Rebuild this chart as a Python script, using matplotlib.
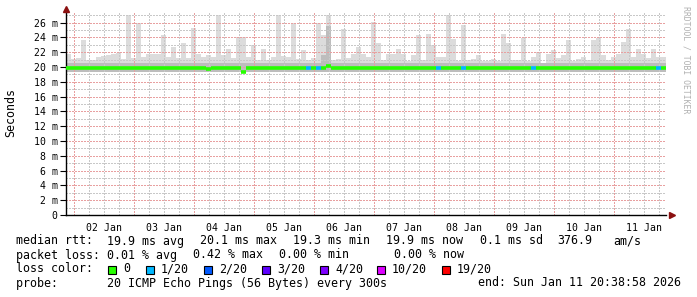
import numpy as np
import matplotlib
matplotlib.use('Agg')
import matplotlib.pyplot as plt
from matplotlib.patches import Rectangle

# smokeping style latency graph, 10 days, values in ms
W, H = 697, 297
START = 1 + (20 + 39 / 60) / 24   # Jan 1 20:39, x axis in "day of January"
DAYS = 10
NBINS = 120

# upper edge of the smoke (max of 20 pings) per 2 h bin
smoke_max = [
  21.8, 21.1, 21.2, 23.6, 21.0, 21.0, 21.3, 21.5, 21.6, 21.7,
  21.9, 21.1, 27.0, 21.2, 26.0, 21.4, 21.8, 21.8, 21.7, 24.3,
  21.4, 22.7, 21.2, 23.3, 21.2, 25.3, 21.8, 21.4, 21.6, 21.3,
  27.0, 21.6, 22.5, 21.2, 24.1, 24.1, 21.3, 23.0, 20.9, 22.5,
  20.9, 21.4, 27.0, 21.5, 21.4, 25.9, 21.1, 22.3, 20.9, 21.2,
  26.0, 24.3, 27.0, 21.0, 21.1, 25.2, 21.2, 21.8, 22.7, 21.8,
  21.4, 26.1, 23.2, 20.9, 21.8, 21.8, 22.5, 21.8, 20.8, 21.6,
  24.3, 20.9, 24.5, 23.0, 21.3, 21.4, 27.0, 23.8, 20.8, 25.7,
  20.9, 21.1, 21.6, 20.8, 20.8, 21.1, 20.8, 24.5, 23.2, 20.9,
  20.9, 23.9, 20.8, 21.4, 22.0, 20.6, 21.8, 22.3, 21.2, 21.6,
  23.6, 20.8, 21.1, 21.4, 20.9, 23.6, 23.9, 21.6, 20.9, 21.4,
  21.8, 23.4, 25.2, 21.4, 22.5, 21.8, 21.2, 22.5, 21.4, 21.4,
]
smoke_min = 19.3
# darker band close to the median, taller where many pings were slow
smoke_mid = [20.5] * NBINS
smoke_mid[51] = 21.6
smoke_mid[52] = 25.5

median_ms = [19.9] * NBINS
median_ms[28] = 19.7
median_ms[35] = 19.3
median_ms[52] = 20.1

lost_pings = [0] * NBINS
for b in (48, 50, 74, 79, 93, 118):
  lost_pings[b] = 1

loss_levels = ['0', '1/20', '2/20', '3/20', '4/20', '10/20', '19/20']
loss_colors = ['#26ff00', '#00b8ff', '#0059ff', '#5e00ff', '#7e00ff', '#dd00ff', '#ff0000']

# legend pieces with their pixel x position
rtt_items = [('median rtt:', 16), ('19.9 ms avg', 107), ('20.1 ms max', 200),
             ('19.3 ms min', 293), ('19.9 ms now', 386), ('0.1 ms sd', 480),
             ('376.9', 557), ('am/s', 613)]
loss_items = [('packet loss:', 16), ('0.01 % avg', 107), ('0.42 % max', 193),
              ('0.00 % min', 279), ('0.00 % now', 394)]
probe_text = 'probe:       20 ICMP Echo Pings (56 Bytes) every 300s'
end_text = 'end: Sun Jan 11 20:38:58 2026'

MONO = 'DejaVu Sans Mono'
plt.rcParams['font.family'] = MONO

fig = plt.figure(figsize=(W / 100, H / 100), dpi=100, facecolor='white')
L, R, T, B = 66, 666, 12, 215
ax = fig.add_axes([L / W, 1 - B / H, (R - L) / W, (B - T) / H])
ytop = (B - T) / 7.4
ax.set_xlim(START, START + DAYS)
ax.set_ylim(0, ytop)

step = DAYS / NBINS
left_edges = START + np.arange(NBINS) * step
centers = left_edges + step / 2
hi = np.array(smoke_max)
mid = np.array(smoke_mid)
ax.bar(centers, hi - smoke_min, bottom=smoke_min, width=step, color='#dcdcdc', linewidth=0, zorder=1)
ax.bar(centers, mid - smoke_min, bottom=smoke_min, width=step, color='#bdbdbd', linewidth=0, zorder=1.1)

# grid drawn over the smoke like rrdtool does
dots = (0, (1.4, 1.4))
red, grey = '#e8a0a0', '#c8c8c8'
for h6 in np.arange(np.ceil(START * 4), (START + DAYS) * 4):
  d = h6 / 4
  ax.axvline(d, color=red if h6 % 4 == 0 else grey, lw=0.72, ls=dots,
             antialiased=False, zorder=2)
for v in range(1, int(ytop) + 1):
  ax.axhline(v, color=red if v % 2 == 0 else grey, lw=0.72, ls=dots,
             antialiased=False, zorder=2)

seg_colors = [loss_colors[n] for n in lost_pings]
ax.hlines(median_ms, left_edges, left_edges + step, colors=seg_colors, lw=2.6, zorder=3)

for s in ['top', 'right']:
  ax.spines[s].set_visible(False)
ax.spines['left'].set_linewidth(1.0)
ax.spines['bottom'].set_linewidth(1.0)

yt = list(range(0, 27, 2))
ax.set_yticks(yt, ['0'] + ['%d m' % v for v in yt[1:]])
noons = [d + 0.5 for d in range(2, 12)]
ax.set_xticks(noons, ['%02d Jan' % d for d in range(2, 12)])
ax.tick_params(axis='y', length=4, width=0.8, pad=2, labelsize=7.1)
ax.tick_params(axis='x', length=0, pad=6, labelsize=7.1)

# axis arrows
ax.plot([START], [ytop + 0.35], marker='^', color='#8b1010', ms=4.5, clip_on=False, zorder=5)
ax.plot([START + DAYS + 0.1], [0], marker='>', color='#8b1010', ms=4.5, clip_on=False, zorder=5)

fig.text(11 / W, 1 - 113 / H, 'Seconds', rotation=90, ha='center', va='center', fontsize=8.4)
fig.text(686 / W, 1 - 60 / H, 'RRDTOOL / TOBI OETIKER', rotation=270, ha='center', va='center',
         fontsize=5.9, color='#b0b0b0')

# legend block
def px(x, y):
  return x / W, 1 - y / H

for txt, x in rtt_items:
  fig.text(*px(x, 244.5), txt, fontsize=8.4, va='baseline')
for txt, x in loss_items:
  fig.text(*px(x, 258.5), txt, fontsize=8.4, va='baseline')
fig.text(*px(16, 272.5), 'loss color:', fontsize=8.4, va='baseline')
box_x = [108, 146, 204, 262, 320, 377, 442]
for bx, lab, col in zip(box_x, loss_levels, loss_colors):
  fig.patches.append(Rectangle(px(bx, 273.5), 8 / W, 8 / H, transform=fig.transFigure,
                               facecolor=col, edgecolor='black', lw=0.8))
  fig.text(*px(bx + 15, 272.5), lab, fontsize=8.4, va='baseline')
fig.text(*px(16, 286.5), probe_text, fontsize=8.4, va='baseline')
fig.text(*px(478, 286.5), end_text, fontsize=8.4, va='baseline')

fig.savefig('out.png', dpi=100, facecolor='white')
